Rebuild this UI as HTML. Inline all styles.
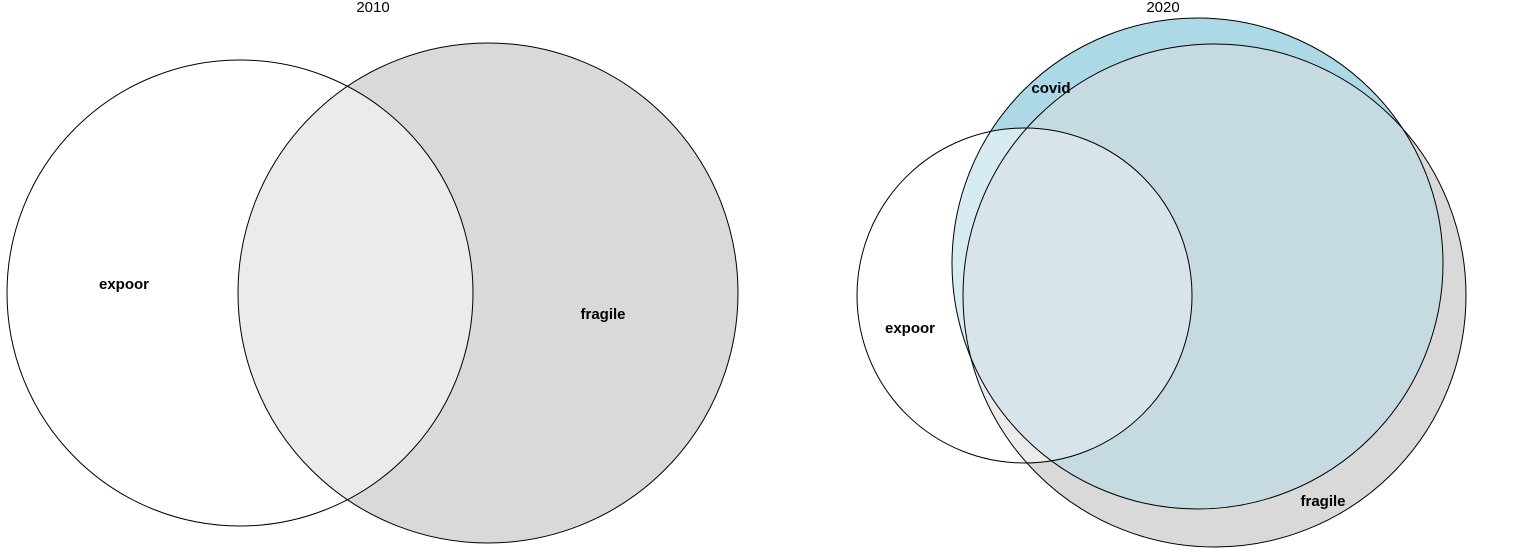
<!DOCTYPE html>
<html><head><meta charset="utf-8"><style>
body{margin:0;background:#fff;}
svg{display:block;font-family:"Liberation Sans",Arial,sans-serif;}
</style></head><body>
<svg width="1535" height="553" viewBox="0 0 1535 553">
<defs>
<clipPath id="cE1"><circle cx="240" cy="293" r="233"/></clipPath>
<clipPath id="cE2"><circle cx="1024.5" cy="295.5" r="167.5"/></clipPath>
<clipPath id="cC2"><circle cx="1197.5" cy="263.5" r="245.5"/></clipPath>
</defs>
<g>
<text x="373" y="12" font-size="15" text-anchor="middle">2010</text>
<circle cx="240" cy="293" r="233" fill="#fff"/>
<circle cx="488" cy="293" r="250" fill="#d9d9d9"/>
<circle cx="488" cy="293" r="250" fill="#ebebeb" clip-path="url(#cE1)"/>
<circle cx="240" cy="293" r="233" fill="none" stroke="#000" stroke-width="1"/>
<circle cx="488" cy="293" r="250" fill="none" stroke="#000" stroke-width="1"/>
<text x="124" y="289" font-size="15" font-weight="bold" text-anchor="middle">expoor</text>
<text x="603" y="319" font-size="15" font-weight="bold" text-anchor="middle">fragile</text>
</g>
<g>
<text x="1163" y="12" font-size="15" text-anchor="middle">2020</text>
<circle cx="1214.5" cy="295.5" r="251.5" fill="#d9d9d9"/>
<circle cx="1197.5" cy="263.5" r="245.5" fill="#add8e6"/>
<circle cx="1214.5" cy="295.5" r="251.5" fill="#c5dae1" clip-path="url(#cC2)"/>
<g clip-path="url(#cE2)">
<circle cx="1024.5" cy="295.5" r="167.5" fill="#fff"/>
<circle cx="1214.5" cy="295.5" r="251.5" fill="#ebebeb"/>
<circle cx="1197.5" cy="263.5" r="245.5" fill="#d6ebf2"/>
<g clip-path="url(#cC2)"><circle cx="1214.5" cy="295.5" r="251.5" fill="#d8e4ea"/></g>
</g>
<circle cx="1024.5" cy="295.5" r="167.5" fill="none" stroke="#000" stroke-width="1"/>
<circle cx="1197.5" cy="263.5" r="245.5" fill="none" stroke="#000" stroke-width="1"/>
<circle cx="1214.5" cy="295.5" r="251.5" fill="none" stroke="#000" stroke-width="1"/>
<text x="1051" y="93" font-size="15" font-weight="bold" text-anchor="middle">covid</text>
<text x="910" y="333" font-size="15" font-weight="bold" text-anchor="middle">expoor</text>
<text x="1323" y="506" font-size="15" font-weight="bold" text-anchor="middle">fragile</text>
</g>
</svg>
</body></html>
